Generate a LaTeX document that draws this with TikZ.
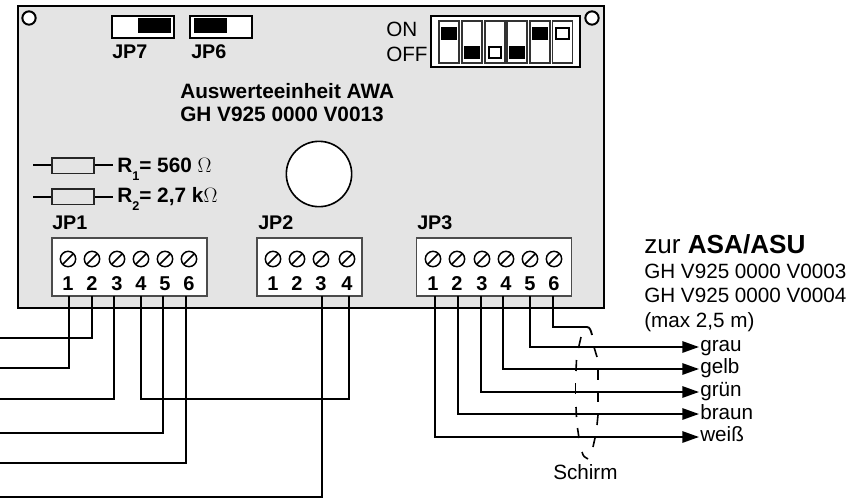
\documentclass[tikz,border=0pt]{standalone}
\usepackage{fontspec}
\setmainfont{Liberation Sans}
\usetikzlibrary{arrows.meta}
\definecolor{boardgray}{HTML}{E4E4E4}
\newfontfamily\omegafont{Latin Modern Roman}
\tikzset{
  x=0.75pt,y=-0.75pt,
  wire/.style={line width=1.4pt,line join=miter},
  arrowwire/.style={wire,-{Triangle[length=12.5pt,width=8.5pt]}},
  plate/.style={draw=black,line width=1.5pt,fill=white,inner sep=0pt,outer sep=0pt},
  thinplate/.style={draw=black!70,line width=1pt,fill=white,inner sep=0pt,outer sep=0pt},
  hole/.style={circle,plate,minimum size=10pt},
  screwh/.style={circle,draw=black,line width=1.1pt,fill=white,inner sep=0pt,minimum size=11.5pt},
  jlabel/.style={font=\fontsize{14.8pt}{16pt}\selectfont\bfseries,anchor=base west,inner sep=0pt},
  title/.style={font=\fontsize{15.6pt}{17pt}\selectfont\bfseries,anchor=base west,inner sep=0pt},
  num/.style={font=\fontsize{15pt}{16pt}\selectfont\bfseries,anchor=base,inner sep=0pt},
  reg/.style={font=\fontsize{15.5pt}{17pt}\selectfont,anchor=base west,inner sep=0pt},
  knobb/.style={draw=black,fill=black,line width=.8pt,inner sep=0pt,minimum width=10.5pt,minimum height=9.5pt},
  knobw/.style={draw=black,fill=white,line width=1.5pt,inner sep=0pt,minimum width=9.5pt,minimum height=8.5pt},
  slot/.style={draw=black!80,fill=white,line width=.8pt,inner sep=0pt,minimum width=15pt,minimum height=31.5pt},
  rbox/.style={draw=black!85,fill=boardgray,line width=1pt,inner sep=0pt,minimum width=31.5pt,minimum height=11.5pt},
  shield/.style={line width=1.2pt},
}
\newcommand{\screw}[2]{\node[screwh] (s#1) at (#2) {};\draw[line width=1.1pt] ([shift={(-5,5)}]#2) -- ([shift={(5,-5)}]#2);}
\begin{document}
\begin{tikzpicture}
\useasboundingbox (0,0) rectangle (854,501);
\node[draw=black,line width=1.5pt,fill=boardgray,inner sep=0pt,minimum width=439.5pt,minimum height=226.5pt] (board) at (310.5,157) {};
\node[hole] (h1) at (29,18) {};
\node[hole] (h2) at (592,18) {};
% jumpers
\node[plate,minimum width=46.5pt,minimum height=16.5pt] (jp7) at (143,27) {};
\node[fill=black,inner sep=0pt,minimum width=25pt,minimum height=11pt] (jp7k) at (154.5,25.5) {};
\node[plate,minimum width=46.5pt,minimum height=16.5pt] (jp6) at (221,27) {};
\node[fill=black,inner sep=0pt,minimum width=25pt,minimum height=11pt] (jp6k) at (210.5,25.5) {};
\node[jlabel] (ljp7) at (112,58) {JP7};
\node[jlabel] (ljp6) at (191,58) {JP6};
\node[title] (t1) at (180,98) {Auswerteeinheit AWA};
\node[title] (t2) at (180,121) {GH V925 0000 V0013};
% dip
\node[reg] (on) at (386,36) {ON};
\node[reg] (off) at (386,61) {OFF};
\node[plate,minimum width=111.75pt,minimum height=38.25pt] (dip) at (505.5,41.5) {};
\foreach \i/\x in {1/449,2/472,3/495,4/517,5/540,6/562.5}
  \node[slot] (sl\i) at (\x,42) {};
\node[knobb] at (449,33.5) {};
\node[knobb] at (472,52.5) {};
\node[knobw] at (495,52.5) {};
\node[knobb] at (517,52.5) {};
\node[knobb] at (540,33.5) {};
\node[knobw] at (562.5,33.5) {};
% resistors
\coordinate (r1a) at (33,165); \coordinate (r1b) at (113,165);
\coordinate (r2a) at (33,197); \coordinate (r2b) at (113,197);
\draw[wire] (r1a) -- (r1b);
\draw[wire] (r2a) -- (r2b);
\node[rbox] (r1) at (73,165.5) {};
\node[rbox] (r2) at (73,196.5) {};
\node[title] (lr1) at (117,172) {R\raisebox{-6pt}{\fontsize{9.5pt}{9pt}\selectfont 1}= 560 {\omegafont\mdseries Ω}};
\node[title] (lr2) at (117,202) {R\raisebox{-6pt}{\fontsize{9.5pt}{9pt}\selectfont 2}= 2,7 k{\omegafont\mdseries Ω}};
\node[circle,draw=black,line width=1.2pt,fill=white,inner sep=0pt,minimum size=49pt] (hole) at (319,174) {};
% terminal blocks
\node[jlabel] (ljp1) at (52,229) {JP1};
\node[jlabel] (ljp2) at (258,229) {JP2};
\node[jlabel] (ljp3) at (417,229) {JP3};
\node[thinplate,minimum width=116.25pt,minimum height=43.5pt] (jb1) at (129.5,267) {};
\node[thinplate,minimum width=78.75pt,minimum height=43.5pt] (jb2) at (309.5,267) {};
\node[thinplate,minimum width=116pt,minimum height=43.5pt] (jb3) at (494,267) {};
\foreach \x/\n in {68/1,92/2,117/3,141/4,165/5,189/6}{
  \screw{a\n}{\x,259}
  \node[num] (na\n) at (\x,290) {\n};
}
\foreach \x/\n in {273/1,297/2,321/3,347/4}{
  \screw{b\n}{\x,259}
  \node[num] (nb\n) at (\x,290) {\n};
}
\foreach \x/\n in {433/1,457/2,482/3,506/4,530/5,554/6}{
  \screw{c\n}{\x,259}
  \node[num] (nc\n) at (\x,290) {\n};
}
% wire ends on blocks
\foreach \n/\x in {1/69,2/92,3/114,4/141,5/163,6/186}
  \coordinate (pa\n) at (\x,296);
\foreach \n/\x in {3/322,4/349}
  \coordinate (pb\n) at (\x,296);
\foreach \n/\x in {1/435,2/458,3/481,4/503,5/530,6/553}
  \coordinate (pc\n) at (\x,296);
% left wires
\foreach \n/\y in {1/368,2/338,3/399,5/433,6/463}{
  \coordinate (la\n) at (0,\y);
  \draw[wire] (pa\n) |- (la\n);
}
\coordinate (lb3) at (0,497);
\draw[wire] (pb3) |- (lb3);
\coordinate (m4) at (0,399);
\draw[wire] (pa4) |- (m4 -| pb4) -- (pb4);
% right wires
\foreach \n/\y in {1/437,2/414,3/392,4/369,5/347}{
  \coordinate (e\n) at (699,\y);
  \draw[arrowwire] (pc\n) |- (e\n);
}
\coordinate (s6) at (587,327);
\coordinate (s6e) at (592,335);
\draw[wire] (pc6) |- (s6) .. controls (590,327) and (591,331) .. (s6e);
% shield
\draw[shield] (581,337) -- (578.5,348);
\draw[shield] (576.5,360) -- (576,371);
\draw[shield] (575.5,383) -- (575.5,394);
\draw[shield] (576,407) -- (576.5,417);
\draw[shield] (577.5,428) -- (579,438);
\draw[shield] (582,452) .. controls (583,456) and (585,458) .. (588,459);
\draw[shield] (594,347) -- (597,357);
\draw[shield] (598,370) -- (598,380);
\draw[shield] (598,393) -- (598,402);
\draw[shield] (598,415) -- (597,425);
\draw[shield] (595,438) -- (593,447);
\node[reg] (sch) at (553,479) {Schirm};
% right text
\node[anchor=base west,inner sep=0pt,font=\fontsize{19.6pt}{22pt}\selectfont] (zur) at (644,253) {zur \textbf{ASA/ASU}};
\node[reg] (g1) at (644,278) {GH V925 0000 V0003};
\node[reg] (g2) at (644,302) {GH V925 0000 V0004};
\node[reg] (g3) at (644,327) {(max 2,5 m)};
\node[reg] (c1) at (700,351) {grau};
\node[reg] (c2) at (700,373) {gelb};
\node[reg] (c3) at (700,396) {grün};
\node[reg] (c4) at (700,419) {braun};
\node[reg] (c5) at (700,441) {weiß};
\end{tikzpicture}
\end{document}
